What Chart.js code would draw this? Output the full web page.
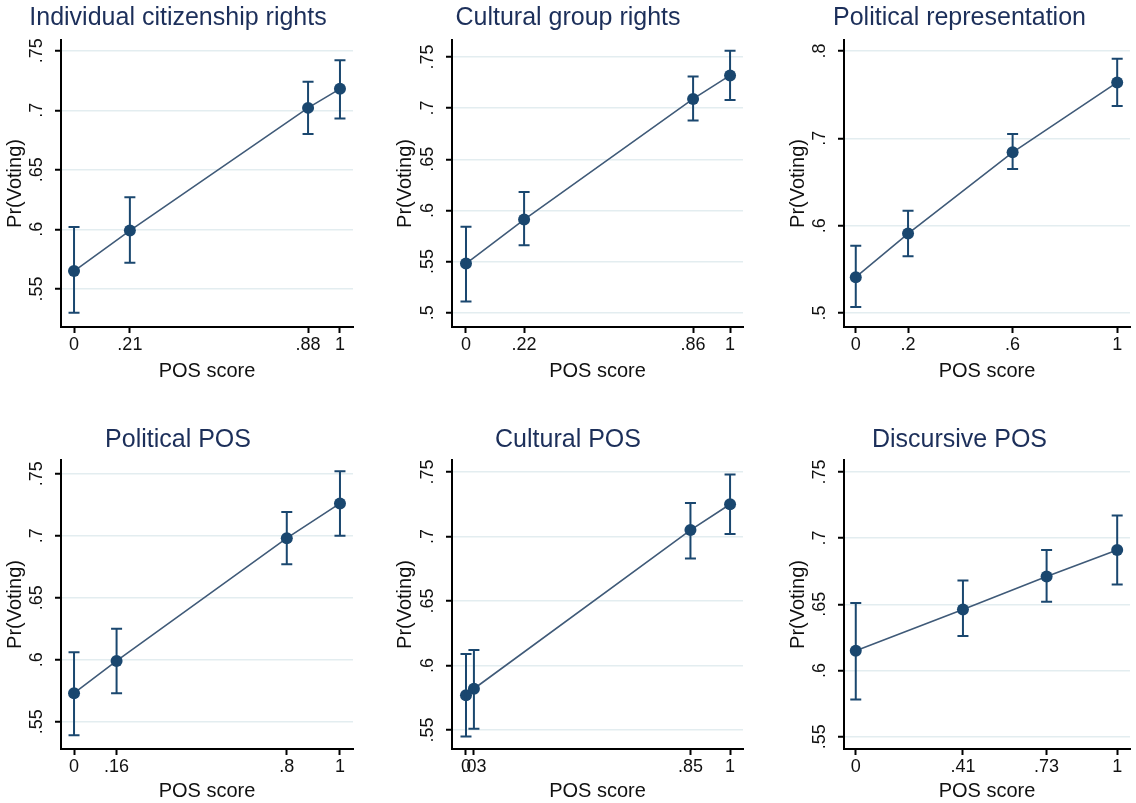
<!DOCTYPE html>
<html>
<head>
<meta charset="utf-8">
<script src="https://cdn.jsdelivr.net/npm/chart.js@4.4.1/dist/chart.umd.min.js"></script>
<style>
  body { margin: 0; background: #fff; }
  #wrap { position: relative; width: 1136px; height: 803px; overflow: hidden; background: #fff; }
  canvas { position: absolute; }
</style>
</head>
<body>
<div id="wrap"></div>
<script>
const panelTitles = ['Individual citizenship rights', 'Cultural group rights', 'Political representation',
                     'Political POS', 'Cultural POS', 'Discursive POS'];

const posScores = [
    [0, .21, .88, 1],
    [0, .22, .86, 1],
    [0, .2, .6, 1],
    [0, .16, .8, 1],
    [0, .03, .85, 1],
    [0, .41, .73, 1]
];

const prVoting = [
    [.565, .599, .702, .718],
    [.548, .591, .709, .732],
    [.541, .591, .684, .764],
    [.573, .599, .698, .726],
    [.577, .582, .705, .725],
    [.615, .646, .671, .691]
];

const ciLower = [
    [.530, .572, .680, .693],
    [.511, .566, .688, .708],
    [.507, .565, .665, .737],
    [.539, .573, .677, .700],
    [.545, .551, .683, .702],
    [.578, .626, .652, .665]
];

const ciUpper = [
    [.602, .627, .724, .742],
    [.584, .618, .731, .756],
    [.577, .617, .705, .791],
    [.606, .625, .719, .752],
    [.609, .612, .726, .748],
    [.651, .668, .691, .717]
];

const xTickLabels = [
    ['0', '.21', '.88', '1'],
    ['0', '.22', '.86', '1'],
    ['0', '.2', '.6', '1'],
    ['0', '.16', '.8', '1'],
    ['0', '.03', '.85', '1'],
    ['0', '.41', '.73', '1']
];

const yTickLabels = [
    ['.55', '.6', '.65', '.7', '.75'],
    ['.5', '.55', '.6', '.65', '.7', '.75'],
    ['.5', '.6', '.7', '.8'],
    ['.55', '.6', '.65', '.7', '.75'],
    ['.55', '.6', '.65', '.7', '.75'],
    ['.55', '.6', '.65', '.7', '.75']
];

const yRanges = [[.518, .759], [.486, .7666], [.484, .8126], [.528, .761], [.5353, .7593], [.5407, .759]];

const xLabel = 'POS score';
const yLabel = 'Pr(Voting)';

// layout of the 2x3 grid
const cols = [
    {left: 0, width: 380, padL: 3, plotL: 61, plotR: 353, xMin: -0.049, xMax: 1.049},
    {left: 380, width: 380, padL: 13, plotL: 72, plotR: 363, xMin: -0.053, xMax: 1.049},
    {left: 760, width: 376, padL: 26, plotL: 84, plotR: 373, xMin: -0.045, xMax: 1.049}
];
const rows = [
    {top: 0, height: 400, titleTop: 3, titleBottom: 7, axisH: 73, xTitleBottom: 17},
    {top: 400, height: 403, titleTop: 25, titleBottom: 5, axisH: 54, xTitleBottom: 0}
];

const navy = '#1a476f';
const fontFamily = '"Liberation Sans", Arial, sans-serif';

let measure = document.createElement('canvas').getContext('2d');
measure.font = '18px ' + fontFamily;
function yPad(labels) {
    let w = Math.max(...labels.map(l => measure.measureText(l).width));
    return 17.5 - w / 2;
}

const ciBars = {
    id: 'ciBars',
    afterDatasetsDraw(chart, args, opts) {
        let ctx = chart.ctx;
        let xs = chart.scales.x, ys = chart.scales.y;
        ctx.save();
        ctx.strokeStyle = navy;
        ctx.lineWidth = 2;
        chart.data.datasets[0].data.forEach((p, i) => {
            let px = xs.getPixelForValue(p.x);
            let top = ys.getPixelForValue(opts.hi[i]);
            let bot = ys.getPixelForValue(opts.lo[i]);
            ctx.beginPath();
            ctx.moveTo(px, top); ctx.lineTo(px, bot);
            ctx.moveTo(px - 5.5, top); ctx.lineTo(px + 5.5, top);
            ctx.moveTo(px - 5.5, bot); ctx.lineTo(px + 5.5, bot);
            ctx.stroke();
        });
        ctx.restore();
    }
};

let wrap = document.getElementById('wrap');

for (let i = 0; i < 6; i++) {
    let col = cols[i % 3];
    let row = rows[Math.floor(i / 3)];

    let canvas = document.createElement('canvas');
    canvas.width = col.width;
    canvas.height = row.height;
    canvas.style.left = col.left + 'px';
    canvas.style.top = row.top + 'px';
    canvas.style.width = col.width + 'px';
    canvas.style.height = row.height + 'px';
    wrap.appendChild(canvas);

    let points = posScores[i].map((x, j) => ({x: x, y: prVoting[i][j]}));
    let xLabels = xTickLabels[i];
    let yLabels = yTickLabels[i];
    let yVals = yLabels.map(l => parseFloat(l));

    new Chart(canvas.getContext('2d'), {
        type: 'line',
        data: {
            datasets: [{
                data: points,
                borderColor: '#3f5a78',
                borderWidth: 1.6,
                pointRadius: 6,
                pointBackgroundColor: navy,
                pointBorderColor: navy,
                pointBorderWidth: 0,
                fill: false,
                tension: 0
            }]
        },
        options: {
            responsive: false,
            animation: false,
            devicePixelRatio: 1,
            layout: {padding: {left: col.padL, right: col.width - col.plotR, top: 0, bottom: 0}},
            plugins: {
                legend: {display: false},
                tooltip: {enabled: false},
                title: {
                    display: true,
                    text: panelTitles[i],
                    color: '#1c2f5a',
                    font: {family: fontFamily, size: 25, weight: 'normal', lineHeight: 1.2},
                    padding: {top: row.titleTop, bottom: row.titleBottom}
                },
                ciBars: {lo: ciLower[i], hi: ciUpper[i]}
            },
            scales: {
                x: {
                    type: 'linear',
                    min: col.xMin,
                    max: col.xMax,
                    bounds: 'data',
                    afterBuildTicks: (scale) => { scale.ticks = posScores[i].map(v => ({value: v})); },
                    afterFit: (scale) => { scale.height = row.axisH; },
                    ticks: {
                        autoSkip: false,
                        maxRotation: 0,
                        padding: 1,
                        color: '#111',
                        font: {family: fontFamily, size: 18},
                        callback: (v, idx) => xLabels[idx]
                    },
                    grid: {
                        drawOnChartArea: false,
                        color: 'transparent',
                        tickColor: '#000',
                        tickWidth: 2,
                        tickLength: 6
                    },
                    border: {display: true, color: '#000', width: 2},
                    title: {
                        display: true,
                        text: xLabel,
                        color: '#111',
                        font: {family: fontFamily, size: 20},
                        padding: {top: 0, bottom: row.xTitleBottom}
                    }
                },
                y: {
                    type: 'linear',
                    min: yRanges[i][0],
                    max: yRanges[i][1],
                    bounds: 'data',
                    afterBuildTicks: (scale) => { scale.ticks = yVals.map(v => ({value: v})); },
                    afterFit: (scale) => { scale.width = col.plotL - col.padL; },
                    ticks: {
                        autoSkip: false,
                        minRotation: 90,
                        maxRotation: 90,
                        crossAlign: 'center',
                        padding: yPad(yLabels),
                        color: '#111',
                        font: {family: fontFamily, size: 18},
                        callback: (v, idx) => yLabels[idx]
                    },
                    grid: {
                        color: '#e3edf0',
                        lineWidth: 1.5,
                        tickColor: '#000',
                        tickWidth: 2,
                        tickLength: 6
                    },
                    border: {display: true, color: '#000', width: 2},
                    title: {
                        display: true,
                        text: yLabel,
                        color: '#111',
                        font: {family: fontFamily, size: 20},
                        padding: {top: 0, bottom: 0}
                    }
                }
            }
        },
        plugins: [ciBars]
    });
}
</script>
</body>
</html>
